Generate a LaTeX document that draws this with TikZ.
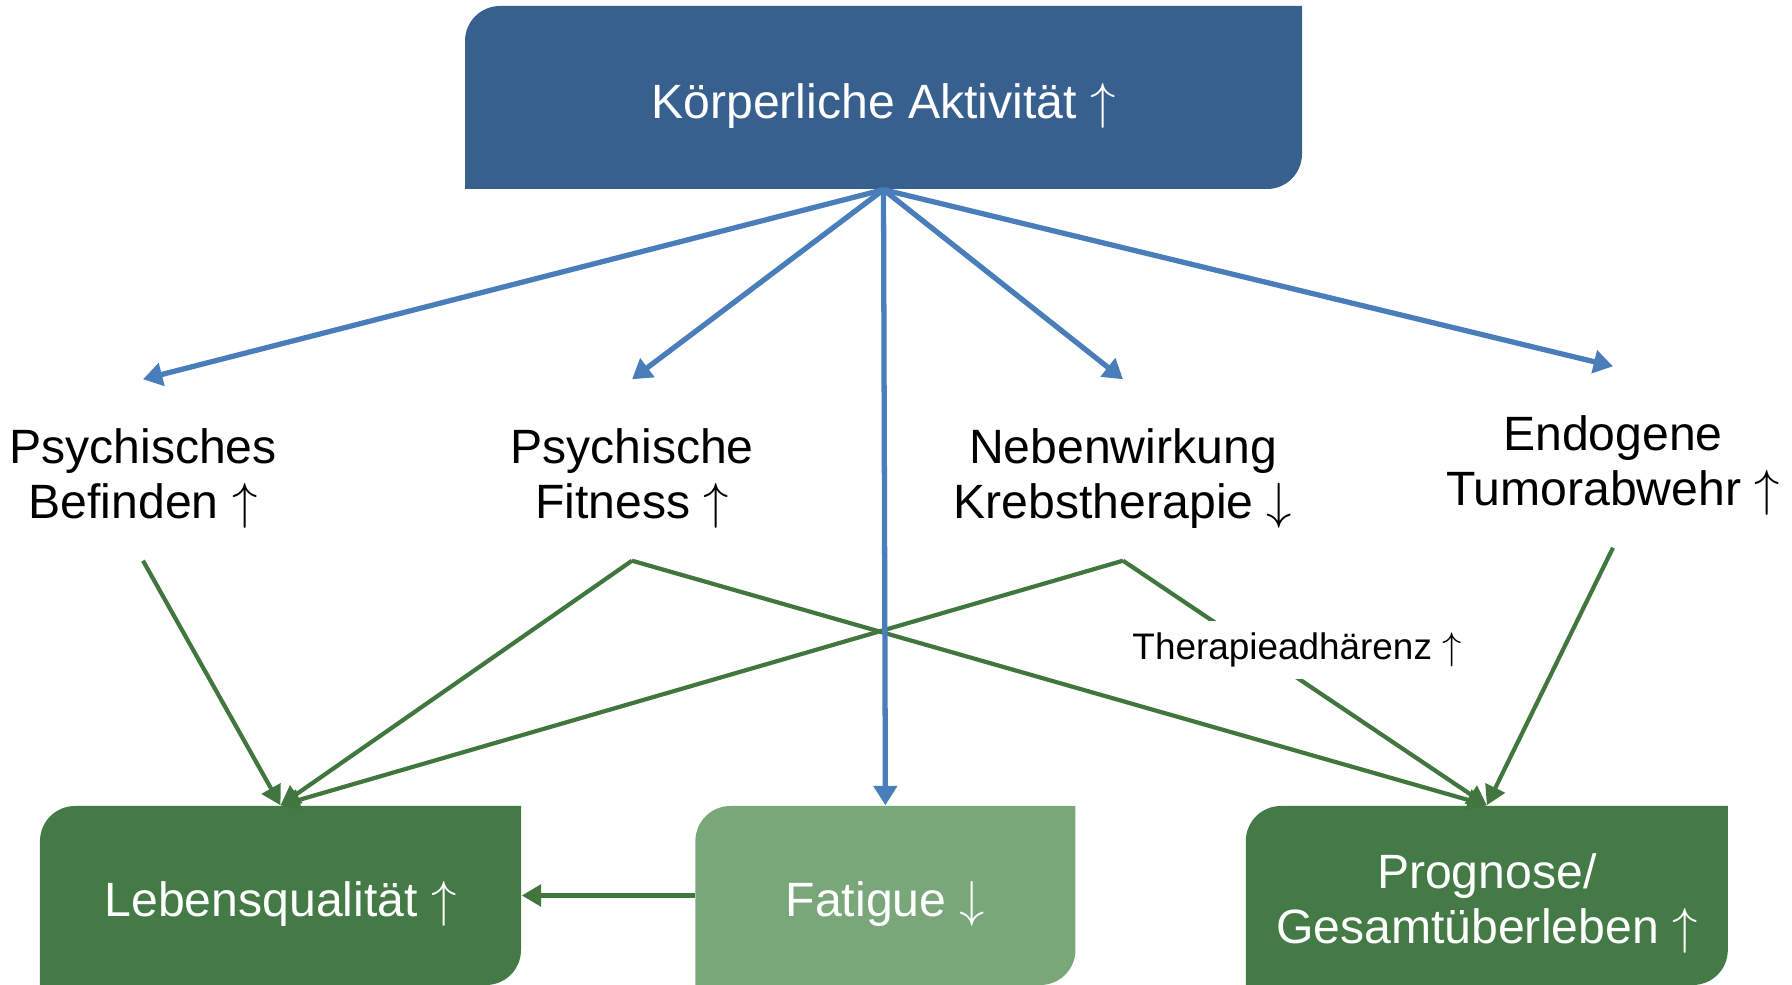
\documentclass[tikz,border=0pt]{standalone}
\usepackage{fontspec}
\setmainfont{Liberation Sans}
\usepackage{tikz}
\usetikzlibrary{arrows.meta,positioning}
\definecolor{topblue}{HTML}{37608F}
\definecolor{arrowblue}{HTML}{4A7EBB}
\definecolor{darkgreen}{HTML}{437A45}
\definecolor{lightgreen}{HTML}{79A77A}
\definecolor{linegreen}{HTML}{41773F}
\newcommand{\up}{$\uparrow$}
\newcommand{\down}{$\downarrow$}
\tikzset{textdrop/.style={execute at begin node={\rule{0pt}{#1}}}}
\tikzstyle{effect} = [rectangle, align=center, minimum height=1.8cm,
    font=\fontsize{13.7}{15.7}\selectfont, textdrop=30.3pt]
\tikzstyle{blueline} = [draw=arrowblue, line width=1.5pt, -{Triangle[length=5.5pt,width=6.5pt]}]
\tikzstyle{greenline} = [draw=linegreen, line width=1.2pt, -{Triangle[length=5.5pt,width=6pt]}]
\tikzset{cornerbox/.style={rectangle, align=center, text=white, inner sep=0pt,
    font=\fontsize{13.7}{15.7}\selectfont, textdrop=14.6pt,
    path picture={\fill[#1] (path picture bounding box.south west)
      -- ([yshift=-3.5mm]path picture bounding box.north west)
      arc[start angle=180,end angle=90,radius=3.5mm]
      -- (path picture bounding box.north east)
      -- ([yshift=3.5mm]path picture bounding box.south east)
      arc[start angle=0,end angle=-90,radius=3.5mm] -- cycle;}}}
\begin{document}
\begin{tikzpicture}[node distance = 1cm]
    \useasboundingbox (0,0) rectangle (17.92,-9.85);
    % Place nodes
    \node [cornerbox=topblue, minimum width=8.37cm, minimum height=1.83cm] (aktiv) at (8.835,-0.975) {Körperliche Aktivität \up};

    \node [effect] (befinden) at (1.43,-4.70) {Psychisches\\Befinden \up};
    \node [effect] (fitness) at (6.32,-4.70) {Psychische\\Fitness \up};
    \node [effect] (nebenw) at (11.23,-4.70) {Nebenwirkung\\Krebstherapie \down};
    \node [effect] (abwehr) at (16.13,-4.57) {Endogene\\Tumorabwehr \up};

    \node [cornerbox=darkgreen, minimum width=4.81cm, minimum height=1.79cm] (leben) at (2.805,-8.955) {Lebensqualität \up};
    \node [cornerbox=lightgreen, minimum width=3.80cm, minimum height=1.79cm, right=1.73cm of leben] (fatigue) {Fatigue \down};
    \node [cornerbox=darkgreen, minimum width=4.82cm, minimum height=1.79cm, right=1.69cm of fatigue, textdrop=30.3pt] (prognose) {Prognose/\\Gesamtüberleben \up};

    % Draw edges
    \path [greenline] (befinden.south) -- (leben.north);
    \path [greenline] (fitness.south) -- (leben.north);
    \path [greenline] (fitness.south) -- (prognose.north);
    \path [greenline] (nebenw.south) -- (leben.north);
    \path [greenline] (nebenw.south) -- (prognose.north);
    \path [greenline] (abwehr.south) -- (prognose.north);
    \path [greenline, line width=1.5pt] (fatigue.west) -- (leben.east);

    \path [blueline] (aktiv.south) -- (befinden.north);
    \path [blueline] (aktiv.south) -- (fitness.north);
    \path [blueline] (aktiv.south) -- (nebenw.north);
    \path [blueline] (aktiv.south) -- (abwehr.north);
    \path [blueline] (aktiv.south) -- (fatigue.north);

    \node [fill=white, font=\fontsize{10.5}{12.6}\selectfont] (adhaerenz) at (12.97,-6.50) {Therapieadhärenz \up};
\end{tikzpicture}
\end{document}
